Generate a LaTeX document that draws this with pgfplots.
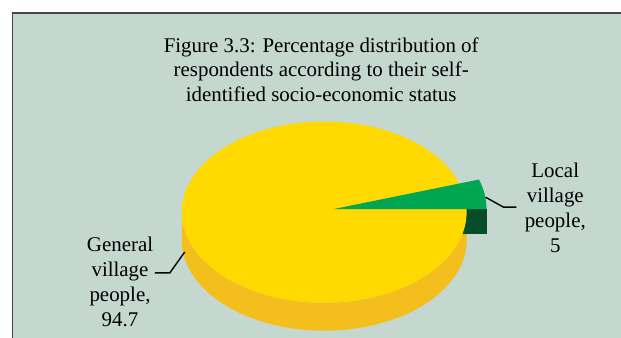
\documentclass[border=0pt]{standalone}
\usepackage{pgfplots}
\usepackage{pgfplotstable}
\pgfplotsset{compat=1.18}
\usepackage{fontspec}
\setmainfont{Liberation Serif}
\definecolor{panel}{RGB}{196,216,207}
\definecolor{border}{RGB}{70,70,70}
\definecolor{ytop}{RGB}{255,217,0}
\definecolor{yside}{RGB}{244,190,28}
\definecolor{gtop}{RGB}{0,166,81}
\definecolor{gdark}{RGB}{6,76,40}
\pgfplotstableread{
label value
General 94.7
Local 5
}\piedata
\begin{document}
\pgfplotstablegetelem{0}{value}\of\piedata\let\vGen\pgfplotsretval
\pgfplotstablegetelem{1}{value}\of\piedata\let\vLoc\pgfplotsretval
\pgfmathsetmacro\angLocal{360*\vLoc/(\vGen+\vLoc)}
\begin{tikzpicture}
\begin{axis}[x=1pt,y=1pt,xmin=0,xmax=621,ymin=0,ymax=339,hide axis,clip mode=global]
\fill[white] (axis cs:0,0) rectangle (axis cs:621,339);
\fill[panel] (axis cs:10,-5) rectangle (axis cs:630,326);
\draw[border,line width=1.3pt] (axis cs:10,-5) -- (axis cs:10,326) -- (axis cs:630,326);
% yellow side wall
\fill[yside] (axis cs:180,126) arc[start angle=180,end angle=360,x radius=143,y radius=91]
  -- (axis cs:466,98) arc[start angle=360,end angle=180,x radius=143,y radius=91] -- cycle;
% green radial face
\fill[gdark] (axis cs:332,129) rectangle (axis cs:486,104);
% yellow top
\fill[ytop] (axis cs:323,126) ellipse[x radius=143,y radius=91];
% green top
\fill[gtop] (axis cs:332,129) -- (axis cs:486,129) arc[start angle=0,end angle=\angLocal,x radius=154,y radius=96] -- cycle;
% leader lines
\draw[black,line width=1.4pt] (axis cs:485,141) -- (axis cs:503,131) -- (axis cs:516,131);
\draw[black,line width=1.4pt] (axis cs:183,86) -- (axis cs:168,65) -- (axis cs:153,65);
% texts
\node[align=center,font=\fontsize{21}{25}\selectfont] at (axis cs:320,269) {Figure 3.3: Percentage distribution of\\respondents according to their self-\\identified socio-economic status};
\node[align=center,font=\fontsize{21}{25}\selectfont] at (axis cs:555,130) {Local\\village\\people,\\5};
\node[align=center,font=\fontsize{21}{25}\selectfont] at (axis cs:118,56) {General\\village\\people,\\94.7};
\end{axis}
\end{tikzpicture}
\end{document}
